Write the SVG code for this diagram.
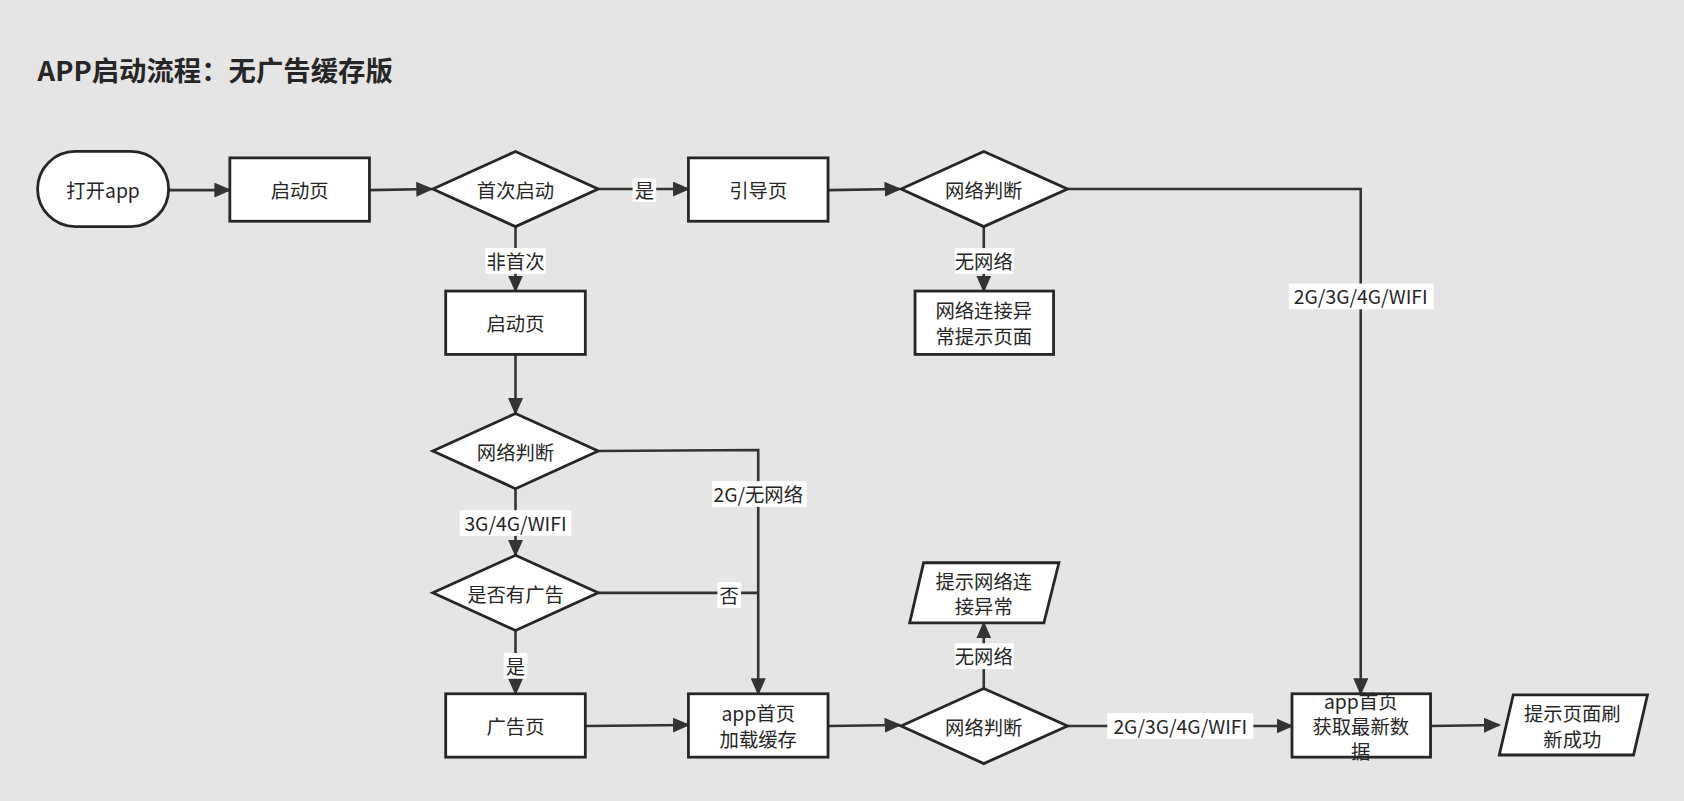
<svg xmlns="http://www.w3.org/2000/svg" width="1684" height="801" viewBox="0 0 1684 801">
<style>
.n{fill:#fff;stroke:#262626;stroke-width:2.6}
.c{fill:none;stroke:#333;stroke-width:2.4;marker-end:url(#a)}
text{font-family:"Noto Sans CJK SC","Liberation Sans",sans-serif;font-size:18px;fill:#262626;text-anchor:middle;dominant-baseline:central}
.lb{fill:#fff}
</style>
<defs><marker id="a" viewBox="0 0 10 10" refX="9" refY="5" markerWidth="16" markerHeight="14" markerUnits="userSpaceOnUse" orient="auto" preserveAspectRatio="none"><path d="M0,0 L10,5 L0,10z" fill="#333"/></marker></defs>
<rect width="1684" height="801" fill="#e5e5e5"/>
<g transform="scale(1.07398)">
<text x="35" y="64" style="font-size:25.5px;font-weight:bold;text-anchor:start">APP启动流程：无广告缓存版</text>
<g id="connectors">
<path class="c" d="M157,177H214"/>
<path class="c" d="M344,177L402,176"/>
<path class="c" d="M557,176H641"/>
<path class="c" d="M771,177L838,176"/>
<path class="c" d="M994,176H1267V646"/>
<path class="c" d="M916,211V271"/>
<path class="c" d="M480,211V271"/>
<path class="c" d="M480,330V385"/>
<path class="c" d="M557,420L706,419V646"/>
<path class="c" d="M480,455V517"/>
<path style="fill:none;stroke:#333;stroke-width:2.4" d="M557,552H706"/>
<path class="c" d="M480,587V646"/>
<path class="c" d="M545,676L641,675"/>
<path class="c" d="M771,676L838,675"/>
<path class="c" d="M916,641V580"/>
<path class="c" d="M994,676H1203"/>
<path class="c" d="M1332,676L1396,675"/>
<rect class="lb" x="589" y="166" width="22" height="22"/><text x="600" y="177">是</text>
<rect class="lb" x="1200" y="264" width="135" height="24"/><text x="1267" y="276">2G/3G/4G/WIFI</text>
<rect class="lb" x="889" y="231" width="55" height="24"/><text x="916" y="243">无网络</text>
<rect class="lb" x="452" y="231" width="56" height="24"/><text x="480" y="243">非首次</text>
<rect class="lb" x="663" y="448" width="88" height="24"/><text x="706" y="460">2G/无网络</text>
<rect class="lb" x="428" y="475" width="104" height="24"/><text x="480" y="487">3G/4G/WIFI</text>
<rect class="lb" x="668" y="542" width="22" height="24"/><text x="679" y="554">否</text>
<rect class="lb" x="469" y="608" width="22" height="24"/><text x="480" y="620">是</text>
<rect class="lb" x="889" y="599" width="55" height="24"/><text x="916" y="611">无网络</text>
<rect class="lb" x="1031" y="664" width="136" height="24"/><text x="1099" y="676">2G/3G/4G/WIFI</text>
</g>
<g id="start"><rect class="n" x="35" y="141" width="122" height="70" rx="35"/><text x="96" y="177">打开app</text></g>
<g id="launch1"><rect class="n" x="214" y="147" width="130" height="59"/><text x="279" y="177">启动页</text></g>
<g id="first"><path class="n" d="M403,176L480,141L557,176L480,211z"/><text x="480" y="177">首次启动</text></g>
<g id="guide"><rect class="n" x="641" y="147" width="130" height="59"/><text x="706" y="177">引导页</text></g>
<g id="net1"><path class="n" d="M839,176L916,141L994,176L916,211z"/><text x="916" y="177">网络判断</text></g>
<g id="neterr"><rect class="n" x="852" y="271" width="129" height="59"/><text x="916" y="289">网络连接异</text><text x="916" y="313">常提示页面</text></g>
<g id="launch2"><rect class="n" x="415" y="271" width="130" height="59"/><text x="480" y="301">启动页</text></g>
<g id="net2"><path class="n" d="M403,420L480,385L557,420L480,455z"/><text x="480" y="421">网络判断</text></g>
<g id="ad"><path class="n" d="M403,552L480,517L557,552L480,587z"/><text x="480" y="553">是否有广告</text></g>
<g id="adpage"><rect class="n" x="415" y="646" width="130" height="59"/><text x="480" y="676">广告页</text></g>
<g id="cache"><rect class="n" x="641" y="646" width="130" height="59"/><text x="706" y="664">app首页</text><text x="706" y="688">加载缓存</text></g>
<g id="net3"><path class="n" d="M839,676L916,641L994,676L916,711z"/><text x="916" y="677">网络判断</text></g>
<g id="tip"><path class="n" d="M860,524H986L972,580H847z"/><text x="916" y="541">提示网络连</text><text x="916" y="564">接异常</text></g>
<g id="home"><rect class="n" x="1203" y="646" width="129" height="59"/><text x="1267" y="653">app首页</text><text x="1267" y="676">获取最新数</text><text x="1267" y="699">据</text></g>
<g id="ok"><path class="n" d="M1409,647H1534L1521,703H1396z"/><text x="1464" y="664">提示页面刷</text><text x="1464" y="688">新成功</text></g>
</g>
</svg>
